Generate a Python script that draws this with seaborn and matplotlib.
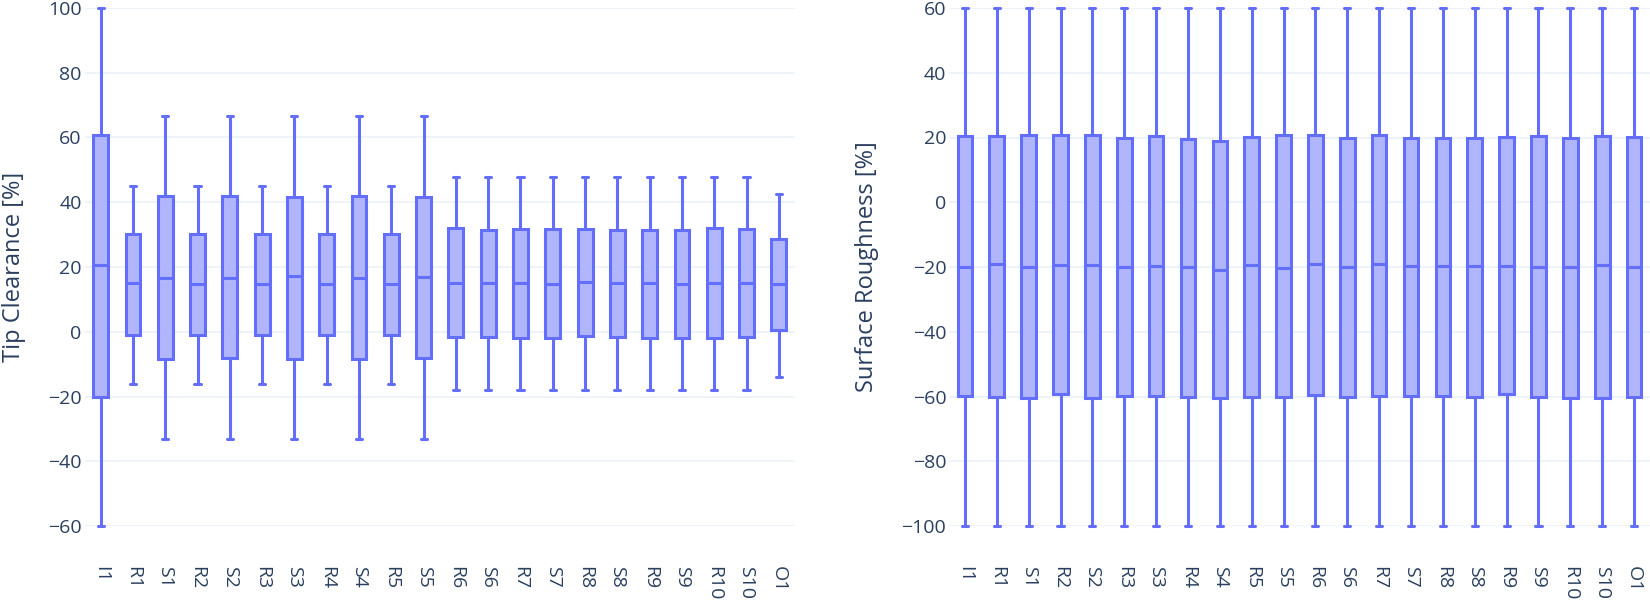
import numpy as np
import pandas as pd
import matplotlib
matplotlib.use("Agg")
import matplotlib.pyplot as plt
import seaborn as sns

categories = ["I1", "R1", "S1", "R2", "S2", "R3", "S3", "R4", "S4", "R5", "S5",
              "R6", "S6", "R7", "S7", "R8", "S8", "R9", "S9", "R10", "S10", "O1"]

# Tip clearance five-number summaries [%]
tip_min = [-60, -16, -33, -16, -33, -16, -33, -16, -33, -16, -33,
           -18, -18, -18, -18, -18, -18, -18, -18, -18, -18, -14]
tip_q1 = [-20, -1, -8.5, -1, -8, -1, -8.5, -1, -8.5, -1, -8,
          -1.5, -1.6, -1.9, -1.9, -1.4, -1.5, -1.8, -2.0, -2.0, -1.7, 0.4]
tip_med = [20.5, 15.0, 16.5, 14.6, 16.6, 14.8, 17.1, 14.8, 16.6, 14.8, 16.9,
           15.1, 15.0, 15.0, 14.9, 15.3, 15.1, 15.0, 14.8, 15.0, 15.2, 14.6]
tip_q3 = [60.7, 30.3, 41.8, 30.3, 42.0, 30.3, 41.7, 30.3, 41.9, 30.3, 41.7,
          31.9, 31.4, 31.8, 31.8, 31.8, 31.5, 31.4, 31.5, 31.9, 31.6, 28.8]
tip_max = [100, 45, 66.5, 45, 66.5, 45, 66.5, 45, 66.5, 45, 66.5,
           47.8, 47.8, 47.8, 47.8, 47.8, 47.8, 47.8, 47.8, 47.8, 47.8, 42.6]

# Surface roughness five-number summaries [%]
sr_min = [-100] * 22
sr_q1 = [-59.9, -60.2, -60.4, -59.3, -60.6, -59.9, -59.7, -60.1, -60.6, -60.0, -60.2,
         -59.5, -60.1, -59.7, -59.8, -59.8, -60.2, -59.2, -60.3, -60.6, -60.6, -60.2]
sr_med = [-20.1, -19.2, -20.0, -19.4, -19.4, -20.1, -19.8, -20.0, -20.9, -19.5, -20.3,
          -19.1, -20.1, -19.1, -19.6, -19.6, -19.8, -19.7, -20.1, -19.9, -19.4, -20.0]
sr_q3 = [20.5, 20.6, 20.9, 20.8, 20.7, 19.9, 20.6, 19.5, 19.0, 20.2, 20.8,
         20.7, 19.9, 20.8, 19.9, 19.8, 20.0, 20.2, 20.4, 19.8, 20.4, 20.3]
sr_max = [60] * 22


def long_frame(mins, q1s, meds, q3s, maxs):
    rows = []
    for c, a, b, m, d, e in zip(categories, mins, q1s, meds, q3s, maxs):
        for v in (a, b, m, d, e):
            rows.append((c, v))
    return pd.DataFrame(rows, columns=["cat", "val"])


tip_df = long_frame(tip_min, tip_q1, tip_med, tip_q3, tip_max)
sr_df = long_frame(sr_min, sr_q1, sr_med, sr_q3, sr_max)

sns.set_theme(style="white")
plt.rcParams["font.family"] = ["Open Sans", "DejaVu Sans"]

TEXT = "#2a3f5f"
LINE = "#636efa"
FILL = "#b1b6fc"
GRID = "#ebf0f8"

W, H = 1650, 603
fig = plt.figure(figsize=(W / 100, H / 100), dpi=100)
top_px, bot_px = 8.0, 526.0
ax1 = fig.add_axes([84.5 / W, 1 - bot_px / H, 710.5 / W, (bot_px - top_px) / H])
ax2 = fig.add_axes([949 / W, 1 - bot_px / H, 701 / W, (bot_px - top_px) / H])


def draw(ax, df, ylim, ticks, label, label_x):
    sns.boxplot(data=df, x="cat", y="val", order=categories, ax=ax,
                color=FILL, linecolor=LINE, linewidth=2.2, width=0.46,
                saturation=1, whis=(0, 100), fliersize=0, capwidths=0.19)
    ax.set_ylim(*ylim)
    ax.set_xlim(-0.5, len(categories) - 0.5)
    ax.set_yticks(ticks)
    ax.set_yticklabels([f"{t}".replace("-", "\u2212") for t in ticks])
    for s in ax.spines.values():
        s.set_visible(False)
    ax.yaxis.grid(True, color=GRID, linewidth=1.2)
    ax.xaxis.grid(False)
    ax.set_axisbelow(True)
    ax.tick_params(axis="y", length=0, pad=2, labelsize=14, labelcolor=TEXT)
    ax.tick_params(axis="x", length=0, pad=29, labelsize=14, labelcolor=TEXT,
                   labelrotation=-90)
    for t in ax.get_xticklabels():
        t.set_va("top")
        t.set_ha("center")
    ax.set_xlabel("")
    ax.set_ylabel(label, fontsize=17, color=TEXT)
    ax.yaxis.set_label_coords(label_x, 0.5)
    for art in ax.lines + ax.patches:
        art.set_clip_on(False)


draw(ax1, tip_df, (-60, 100), [-60, -40, -20, 0, 20, 40, 60, 80, 100],
     "Tip Clearance [%]", (26 - 84.5) / 710.5)
draw(ax2, sr_df, (-100, 60), [-100, -80, -60, -40, -20, 0, 20, 40, 60],
     "Surface Roughness [%]", (879 - 949) / 701)

fig.savefig("out.png", dpi=100, facecolor="white")
